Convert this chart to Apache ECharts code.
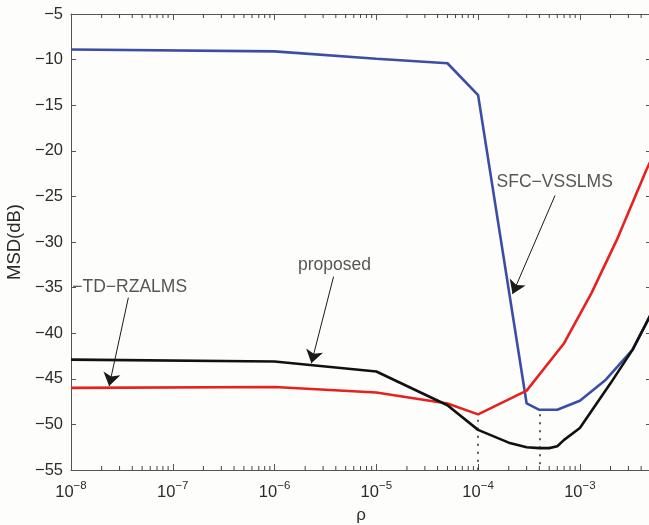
<!DOCTYPE html>
<html>
<head>
<meta charset="utf-8">
<script src="https://cdn.jsdelivr.net/npm/echarts@6/dist/echarts.min.js"></script>
<style>
  html, body { margin: 0; padding: 0; background: #fdfdfb; }
  #chart { width: 649px; height: 525px; }
</style>
</head>
<body>
<div id="chart"></div>
<script>
// SFC-VSSLMS (blue)
const blueRho = [1e-8, 1e-6, 1e-5, 5e-5, 1e-4, 3e-4, 4e-4, 6e-4, 1e-3, 1.8e-3, 3.3e-3, 5e-3];
const blueMsd = [-8.9, -9.1, -9.9, -10.4, -13.9, -47.7, -48.4, -48.4, -47.4, -45.1, -41.8, -37.9];
// TD-RZALMS (red)
const redRho = [1e-8, 1e-6, 1e-5, 5e-5, 1e-4, 3e-4, 7e-4, 1.3e-3, 2.3e-3, 4.5e-3, 5e-3];
const redMsd = [-46.0, -45.9, -46.5, -47.7, -48.9, -46.3, -41.1, -35.6, -29.8, -22.1, -21.0];
// proposed (black)
const blackRho = [1e-8, 1e-6, 1e-5, 5e-5, 1e-4, 2e-4, 3e-4, 4e-4, 5e-4, 6e-4, 7e-4, 1e-3, 2e-3, 3.3e-3, 5e-3];
const blackMsd = [-42.9, -43.1, -44.2, -47.9, -50.6, -52.0, -52.5, -52.6, -52.6, -52.4, -51.7, -50.4, -45.5, -41.8, -37.9];

// decades for minor ticks, and the 2..9 multipliers
const decades = [-8, -7, -6, -5, -4, -3];
const minorMult = [2, 3, 4, 5, 6, 7, 8, 9];

// annotations: [rho, msd, text]
const labels = [
  [5.66e-4, -23.4, 'SFC\u2212VSSLMS'],
  [3.88e-6, -32.5, 'proposed']
];
const labelLeft = [[1.03e-8, -34.9, '\u2212TD\u2212RZALMS']];
// arrows: [fromRho, fromMsd, toRho, toMsd]
const arrows = [
  [5.7e-4, -24.9, 2.18e-4, -35.7],
  [3.8e-6, -33.8, 2.3e-6, -43.3],
  [3.66e-8, -36.1, 2.37e-8, -45.8]
];
// dotted drop lines: [rho, fromMsd]
const drops = [[1e-4, -49.5], [4e-4, -48.9]];

const xmin = 1e-8, xmax = 5e-3, ymin = -55, ymax = -5;
const textColor = '#2b2b2b';
const axisColor = '#555';
const font = 'Liberation Sans, Arial, sans-serif';

function zip(xs, ys) { return xs.map((x, i) => [x, ys[i]]); }

let minorTicks = [];
decades.forEach(d => minorMult.forEach(m => {
  const v = m * Math.pow(10, d);
  if (v < xmax) minorTicks.push([v, ymin]);
}));

const chart = echarts.init(document.getElementById('chart'));

const xLabel = function (v) {
  const e = Math.round(Math.log10(v));
  if (Math.abs(v - Math.pow(10, e)) / v > 1e-6) return '';
  return '{b|10}{s|' + (e < 0 ? '\u2212' + (-e) : e) + '}';
};

let options = {
  backgroundColor: '#fdfdfb',
  animation: false,
  textStyle: { fontFamily: font },
  grid: { left: 71, right: -2, top: 14, bottom: 55, containLabel: false, outerBoundsMode: 'none' },
  xAxis: [
    {
      type: 'log', logBase: 10, min: xmin, max: xmax,
      name: '\u03c1', nameLocation: 'middle', nameGap: 37,
      nameTextStyle: { fontSize: 17, color: textColor, fontFamily: font },
      axisLine: { show: true, lineStyle: { color: axisColor, width: 1 } },
      axisTick: { show: true, inside: true, length: 6, lineStyle: { color: axisColor } },
      splitLine: { show: false },
      axisLabel: {
        formatter: xLabel, margin: 10, color: textColor,
        rich: {
          b: { fontSize: 16.5, fontFamily: font, color: textColor },
          s: { fontSize: 11.5, fontFamily: font, color: textColor, padding: [0, 0, 12, 0] }
        }
      }
    },
    {
      type: 'log', logBase: 10, min: xmin, max: xmax, position: 'top',
      axisLine: { show: true, lineStyle: { color: axisColor, width: 1 } },
      axisTick: { show: true, inside: true, length: 6, lineStyle: { color: axisColor } },
      axisLabel: { show: false },
      splitLine: { show: false }
    }
  ],
  yAxis: [
    {
      type: 'value', min: ymin, max: ymax, interval: 5,
      name: 'MSD(dB)', nameLocation: 'middle', nameGap: 44,
      nameTextStyle: { fontSize: 18.5, color: textColor, fontFamily: font },
      axisLine: { show: true, lineStyle: { color: axisColor, width: 1 } },
      axisTick: { show: true, inside: true, length: 5, lineStyle: { color: axisColor } },
      splitLine: { show: false },
      axisLabel: {
        fontSize: 16.5, color: textColor, margin: 8,
        formatter: v => String(v).replace('-', '\u2212')
      }
    },
    {
      type: 'value', min: ymin, max: ymax, interval: 5, position: 'right',
      axisLine: { show: false },
      axisTick: { show: true, inside: true, length: 5, lineStyle: { color: axisColor } },
      axisLabel: { show: false },
      splitLine: { show: false }
    }
  ],
  series: [
    {
      name: 'SFC-VSSLMS', type: 'line', data: zip(blueRho, blueMsd),
      showSymbol: false, lineStyle: { color: '#3b4ea6', width: 2.6 }, z: 3,
      markLine: {
        silent: true, symbol: ['none', 'none'], label: { show: false },
        lineStyle: { color: '#222', width: 1.5, type: [2, 6] },
        data: drops.map(d => [{ coord: [d[0], d[1]] }, { coord: [d[0], ymin] }])
      }
    },
    {
      name: 'TD-RZALMS', type: 'line', data: zip(redRho, redMsd),
      showSymbol: false, lineStyle: { color: '#e5221f', width: 2.6 }, z: 3
    },
    {
      name: 'proposed', type: 'line', data: zip(blackRho, blackMsd),
      showSymbol: false, lineStyle: { color: '#111', width: 2.6 }, z: 4
    },
    {
      name: 'arrows', type: 'line', data: [], z: 6,
      markLine: {
        silent: true, symbol: ['none', 'arrow'], symbolSize: 13,
        label: { show: false },
        lineStyle: { color: '#1a1a1a', width: 1, type: 'solid' },
        data: arrows.map(a => [{ coord: [a[0], a[1]] }, { coord: [a[2], a[3]] }])
      }
    },
    {
      type: 'scatter', data: labels, symbolSize: 0, silent: true,
      label: {
        show: true, position: 'inside', color: textColor, fontSize: 17.5, fontFamily: font,
        formatter: p => p.value[2]
      }
    },
    {
      type: 'scatter', data: labelLeft, symbolSize: 0, silent: true,
      label: {
        show: true, position: 'right', distance: 0, color: textColor, fontSize: 17.5, fontFamily: font,
        formatter: p => p.value[2]
      }
    },
    {
      type: 'custom', data: minorTicks, silent: true, clip: false, z: 10,
      renderItem: function (params, api) {
        const b = api.coord([api.value(0), ymin]);
        const t = api.coord([api.value(0), ymax]);
        const st = { stroke: '#444', lineWidth: 1 };
        return {
          type: 'group',
          children: [
            { type: 'line', shape: { x1: b[0], y1: b[1], x2: b[0], y2: b[1] - 4 }, style: st },
            { type: 'line', shape: { x1: t[0], y1: t[1], x2: t[0], y2: t[1] + 4 }, style: st }
          ]
        };
      }
    }
  ]
};

chart.setOption(options, true);
</script>
</body>
</html>
